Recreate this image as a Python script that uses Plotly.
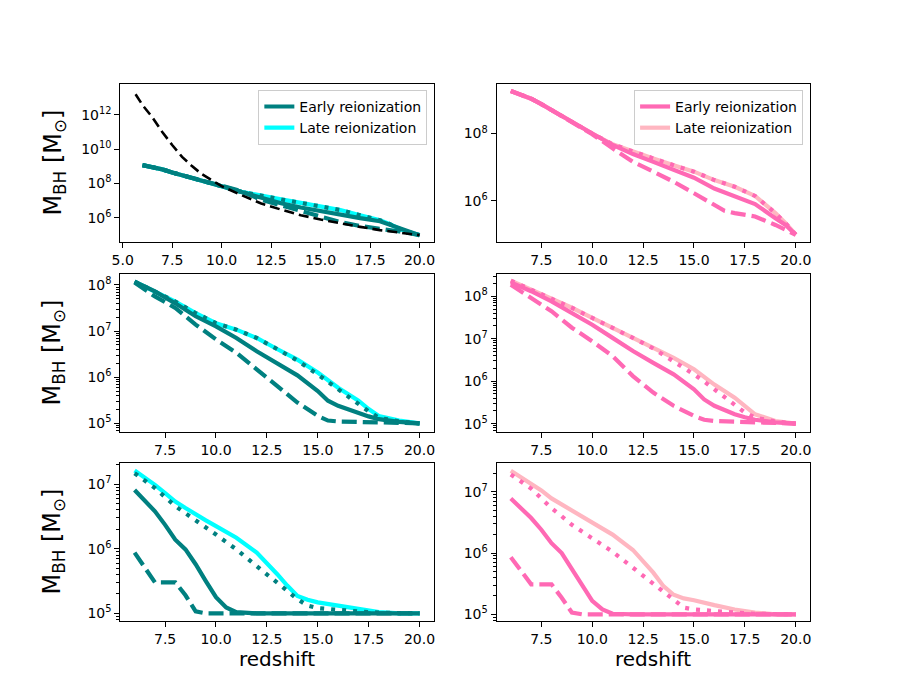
import plotly.graph_objects as go

# ---------------- data (log10 of M_BH / M_sun) ----------------
# Top-left panel
tl_black_z = [5.65, 6.0, 6.5, 7.0, 7.5, 8.0, 8.5, 9.0, 9.5, 10, 11, 12, 13, 14, 15, 16, 17, 18, 19, 20]
tl_black_logm = [13.2, 12.57, 11.85, 11.0, 10.24, 9.55, 9.01, 8.54, 8.19, 7.84, 7.32, 6.83, 6.48, 6.15,
                 5.9, 5.67, 5.47, 5.28, 5.12, 4.99]
tl_z = [6, 6.5, 7, 7.5, 8, 8.5, 9, 9.5, 10, 11, 12, 13, 14, 15, 16, 17, 18, 18.5, 19, 19.5, 20]
tl_late_solid = [9.07, 8.97, 8.82, 8.64, 8.49, 8.33, 8.19, 8.0, 7.84, 7.51, 7.32, 7.07, 6.87, 6.64, 6.45,
                 6.15, 5.86, 5.63, 5.35, 5.15, 4.99]
tl_early_solid = [9.07, 8.97, 8.82, 8.64, 8.49, 8.33, 8.19, 8.0, 7.84, 7.5, 7.15, 6.85, 6.6, 6.38, 6.15,
                  5.98, 5.8, 5.6, 5.35, 5.15, 4.99]
tl_early_dashed = [9.07, 8.97, 8.82, 8.64, 8.49, 8.33, 8.19, 8.0, 7.84, 7.55, 7.05, 6.72, 6.4, 6.05, 5.75,
                   5.52, 5.38, 5.3, 5.2, 5.1, 4.99]
tl_early_dotted = [9.07, 8.97, 8.82, 8.64, 8.49, 8.33, 8.19, 8.0, 7.84, 7.51, 7.32, 7.07, 6.87, 6.64, 6.45,
                   6.15, 5.86, 5.63, 5.35, 5.15, 4.99]

# Top-right panel
tr_z = [6, 7, 7.5, 8, 9, 10, 11, 12, 13, 14, 15, 16, 16.5, 17, 18, 19, 19.5, 20]
tr_late_solid = [9.26, 9.03, 8.87, 8.69, 8.34, 8.0, 7.68, 7.46, 7.26, 7.06, 6.87, 6.62, 6.52, 6.42, 6.15,
                 5.64, 5.34, 5.0]
tr_early_solid = [9.26, 9.03, 8.87, 8.69, 8.34, 8.0, 7.66, 7.39, 7.16, 6.94, 6.69, 6.37, 6.25, 6.15, 5.91,
                  5.49, 5.29, 5.0]
tr_early_dashed = [9.26, 9.03, 8.87, 8.69, 8.33, 7.98, 7.56, 7.16, 6.87, 6.57, 6.23, 5.88, 5.71, 5.64, 5.54,
                   5.29, 5.16, 5.0]
tr_early_dotted = [9.26, 9.03, 8.87, 8.69, 8.34, 8.0, 7.68, 7.46, 7.26, 7.06, 6.87, 6.62, 6.52, 6.42, 6.15,
                   5.64, 5.34, 5.0]

# Middle row
mid_z = [6, 7, 8, 9, 10, 11, 12, 13, 14, 15, 15.5, 16, 17, 17.5, 18, 19, 20]
ml_late_solid = [8.07, 7.86, 7.64, 7.39, 7.17, 7.03, 6.85, 6.61, 6.38, 6.10, 5.94, 5.77, 5.49, 5.31, 5.16, 5.06, 5.0]
ml_early_dotted = [8.07, 7.86, 7.64, 7.39, 7.17, 7.03, 6.85, 6.61, 6.36, 6.06, 5.9, 5.72, 5.42, 5.26, 5.12, 5.04, 5.0]
ml_early_solid = [8.07, 7.86, 7.6, 7.32, 7.10, 6.85, 6.56, 6.31, 6.04, 5.70, 5.49, 5.38, 5.22, 5.15, 5.09, 5.03, 5.0]
ml_early_dashed = [8.05, 7.75, 7.5, 7.14, 6.82, 6.53, 6.17, 5.81, 5.45, 5.16, 5.06, 5.04, 5.03, 5.02, 5.02, 5.01, 5.0]

mr_late_solid = [8.37, 8.16, 7.96, 7.73, 7.49, 7.26, 7.02, 6.79, 6.55, 6.28, 6.1, 5.92, 5.61, 5.42, 5.22, 5.06, 5.0]
mr_early_dotted = [8.37, 8.16, 7.96, 7.73, 7.49, 7.26, 7.02, 6.77, 6.47, 6.16, 5.99, 5.81, 5.45, 5.26, 5.14, 5.05, 5.0]
mr_early_solid = [8.33, 8.12, 7.88, 7.61, 7.33, 7.02, 6.71, 6.43, 6.16, 5.81, 5.57, 5.42, 5.22, 5.15, 5.09, 5.03, 5.0]
mr_early_dashed = [8.27, 7.96, 7.65, 7.26, 6.94, 6.59, 6.12, 5.73, 5.42, 5.18, 5.09, 5.06, 5.05, 5.04, 5.03, 5.01, 5.0]

# Bottom row
bot_z = [6, 6.5, 7, 7.5, 8, 8.5, 9, 9.5, 10, 10.5, 11, 12, 12.5, 13, 13.5, 14, 14.5, 15, 16, 17, 18, 19, 20]
bl_late_solid = [7.21, 7.1, 6.99, 6.86, 6.73, 6.63, 6.53, 6.44, 6.35, 6.26, 6.17, 5.94, 5.78, 5.61, 5.43,
                 5.27, 5.21, 5.17, 5.12, 5.07, 5.02, 5.0, 5.0]
bl_early_dotted = [7.17, 7.06, 6.94, 6.80, 6.66, 6.55, 6.43, 6.33, 6.22, 6.11, 5.99, 5.73, 5.61, 5.48, 5.35,
                   5.22, 5.12, 5.08, 5.05, 5.03, 5.01, 5.0, 5.0]
bl_early_solid = [6.91, 6.75, 6.58, 6.37, 6.14, 5.99, 5.76, 5.50, 5.25, 5.09, 5.02, 5.0, 5.0, 5.0, 5.0,
                  5.0, 5.0, 5.0, 5.0, 5.0, 5.0, 5.0, 5.0]
bl_early_dashed = [5.94, 5.70, 5.48, 5.48, 5.48, 5.28, 5.03, 5.0, 5.0, 5.0, 5.0, 5.0, 5.0, 5.0, 5.0,
                   5.0, 5.0, 5.0, 5.0, 5.0, 5.0, 5.0, 5.0]

br_late_solid = [7.34, 7.24, 7.14, 7.02, 6.89, 6.79, 6.68, 6.59, 6.49, 6.40, 6.30, 6.05, 5.86, 5.68, 5.46,
                 5.32, 5.26, 5.23, 5.15, 5.08, 5.03, 5.0, 5.0]
br_early_dotted = [7.28, 7.17, 7.05, 6.89, 6.73, 6.6, 6.46, 6.35, 6.24, 6.13, 6.02, 5.76, 5.63, 5.51, 5.38,
                   5.26, 5.11, 5.08, 5.05, 5.03, 5.01, 5.0, 5.0]
br_early_solid = [6.89, 6.73, 6.57, 6.38, 6.16, 6.0, 5.73, 5.46, 5.22, 5.08, 5.01, 5.0, 5.0, 5.0, 5.0,
                  5.0, 5.0, 5.0, 5.0, 5.0, 5.0, 5.0, 5.0]
br_early_dashed = [5.93, 5.70, 5.49, 5.49, 5.49, 5.27, 5.03, 5.0, 5.0, 5.0, 5.0, 5.0, 5.0, 5.0, 5.0,
                   5.0, 5.0, 5.0, 5.0, 5.0, 5.0, 5.0, 5.0]

legend_labels = ["Early reionization", "Late reionization"]

# ---------------- styling ----------------
TEAL, CYAN = "#008080", "#00FFFF"
HOT, LIGHT = "#FF69B4", "#FFB6C1"
LW = 4.2
DASH = "15px,6px"
DOT = "4px,7px"
FONT = "DejaVu Sans, Liberation Sans, sans-serif"

# the page body has an 8px margin, so the figure is drawn at (8, 8)
OFF = 8
W, H = 900 - OFF, 700 - OFF


def px_x(p):
    return (p - OFF) / W


def px_y(p):
    return 1 - (p - OFF) / H


# panel boxes in window pixels (matplotlib default subplot geometry)
col_px = [(112.5, 429.5), (493.0, 810.0)]
row_px = [(84.0, 242.5), (274.2, 432.7), (463.5, 622.0)]
xdom = [[px_x(a), px_x(b)] for a, b in col_px]
ydom = [[px_y(b), px_y(a)] for a, b in row_px]


def mass(vals):
    return [10 ** v for v in vals]


fig = go.Figure()

panels = [
    (0, 0, tl_z, [(tl_late_solid, CYAN, "solid", legend_labels[1], True),
                  (tl_early_solid, TEAL, "solid", legend_labels[0], True),
                  (tl_early_dashed, TEAL, DASH, None, False),
                  (tl_early_dotted, TEAL, DOT, None, False)],
     [4.58, 13.8], [6, 8, 10, 12], False),
    (0, 1, tr_z, [(tr_late_solid, LIGHT, "solid", legend_labels[1], True),
                  (tr_early_solid, HOT, "solid", legend_labels[0], True),
                  (tr_early_dashed, HOT, DASH, None, False),
                  (tr_early_dotted, HOT, DOT, None, False)],
     [4.78, 9.47], [6, 8], False),
    (1, 0, mid_z, [(ml_late_solid, CYAN, "solid", None, False),
                   (ml_early_solid, TEAL, "solid", None, False),
                   (ml_early_dashed, TEAL, DASH, None, False),
                   (ml_early_dotted, TEAL, DOT, None, False)],
     [4.81, 8.24], [5, 6, 7, 8], True),
    (1, 1, mid_z, [(mr_late_solid, LIGHT, "solid", None, False),
                   (mr_early_solid, HOT, "solid", None, False),
                   (mr_early_dashed, HOT, DASH, None, False),
                   (mr_early_dotted, HOT, DOT, None, False)],
     [4.8, 8.53], [5, 6, 7, 8], True),
    (2, 0, bot_z, [(bl_late_solid, CYAN, "solid", None, False),
                   (bl_early_solid, TEAL, "solid", None, False),
                   (bl_early_dashed, TEAL, DASH, None, False),
                   (bl_early_dotted, TEAL, DOT, None, False)],
     [4.88, 7.33], [5, 6, 7], True),
    (2, 1, bot_z, [(br_late_solid, LIGHT, "solid", None, False),
                   (br_early_solid, HOT, "solid", None, False),
                   (br_early_dashed, HOT, DASH, None, False),
                   (br_early_dotted, HOT, DOT, None, False)],
     [4.89, 7.47], [5, 6, 7], True),
]

layout_axes = {}
for i, (r, c, z, lines, yr, majors, minor) in enumerate(panels):
    k = i + 1
    xa = "x" if k == 1 else f"x{k}"
    ya = "y" if k == 1 else f"y{k}"
    legend_id = "legend" if c == 0 else "legend2"
    for vals, color, dash, name, show in lines:
        fig.add_trace(go.Scatter(
            x=z, y=mass(vals), mode="lines", xaxis=xa, yaxis=ya,
            line=dict(color=color, width=LW, dash=dash),
            name=name if name else "", showlegend=show, legend=legend_id,
            legendrank=1 if name == legend_labels[0] else 2,
            hoverinfo="skip"))
    if k == 1:
        fig.add_trace(go.Scatter(
            x=tl_black_z, y=mass(tl_black_logm), mode="lines", xaxis=xa, yaxis=ya,
            line=dict(color="black", width=2.6, dash="10px,5px"), showlegend=False,
            hoverinfo="skip"))

    xr = [4.88, 20.72] if k == 1 else [5.3, 20.7]
    axis_common = dict(showline=True, linecolor="black", linewidth=1.1, mirror=True,
                       ticks="outside", ticklen=5, tickwidth=1.1, tickcolor="black",
                       showgrid=False, zeroline=False,
                       tickfont=dict(family=FONT, size=14, color="black"))
    layout_axes["xaxis" if k == 1 else f"xaxis{k}"] = dict(
        domain=xdom[c], anchor=ya, range=xr, tickmode="linear", tick0=0, dtick=2.5,
        tickformat=".1f", **axis_common)
    ymin = {}
    if minor:
        mv = [m * 10 ** d for d in range(4, 9) for m in range(2, 10)]
        ymin = dict(minor=dict(tickmode="array", tickvals=mv, ticks="outside", ticklen=2.8,
                               tickwidth=0.8, tickcolor="black", showgrid=False))
    layout_axes["yaxis" if k == 1 else f"yaxis{k}"] = dict(
        domain=ydom[r], anchor=xa, type="log", range=yr, tickmode="array",
        tickvals=[10 ** m for m in majors], ticktext=[f"10<sup>{m}</sup>" for m in majors],
        **axis_common, **ymin)

fig.update_layout(**layout_axes)

leg_common = dict(font=dict(family=FONT, size=14, color="black"),
                  bgcolor="rgba(255,255,255,0.8)", bordercolor="#cccccc", borderwidth=1,
                  xanchor="right", yanchor="top", itemwidth=30, tracegroupgap=0,
                  traceorder="normal")
fig.update_layout(
    legend=dict(x=px_x(423), y=px_y(90), **leg_common),
    legend2=dict(x=px_x(803), y=px_y(90), **leg_common),
)

annotations = []
for r in range(3):
    yc = (ydom[r][0] + ydom[r][1]) / 2
    annotations.append(dict(text="M<sub>BH</sub> [M<sub>⊙</sub>]", x=px_x(45), y=yc, xref="paper", yref="paper",
                            textangle=-90, showarrow=False, xanchor="center", yanchor="middle",
                            font=dict(family=FONT, size=24, color="black")))
for c in range(2):
    xc = (xdom[c][0] + xdom[c][1]) / 2
    annotations.append(dict(text="redshift", x=xc, y=px_y(660), xref="paper", yref="paper",
                            showarrow=False, xanchor="center", yanchor="middle",
                            font=dict(family=FONT, size=20, color="black")))

fig.update_layout(
    width=W, height=H, margin=dict(l=0, r=0, t=0, b=0),
    paper_bgcolor="white", plot_bgcolor="white",
    font=dict(family=FONT, color="black"),
    annotations=annotations,
)

fig.write_html("out.html")
